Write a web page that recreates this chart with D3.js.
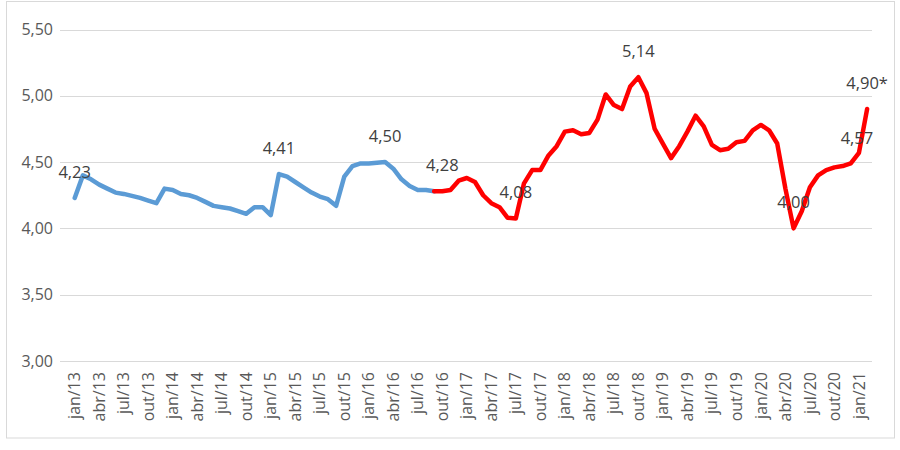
<!DOCTYPE html>
<html>
<head>
<meta charset="utf-8">
<script src="https://cdn.jsdelivr.net/npm/d3@7"></script>
<style>
  html, body { margin: 0; padding: 0; background: #ffffff; }
  svg { display: block; font-family: "Open Sans", "Noto Sans", sans-serif; }
</style>
</head>
<body>
<svg id="chart" width="900" height="450"></svg>
<script>
// ---- data ----
// monthly values, jan/13 .. fev/21
const values = [
  4.23, 4.40, 4.37, 4.33, 4.30, 4.27, 4.26, 4.245, 4.23, 4.21, 4.19, 4.30,
  4.29, 4.26, 4.25, 4.23, 4.20, 4.17, 4.16, 4.15, 4.13, 4.11, 4.16, 4.16,
  4.10, 4.41, 4.39, 4.35, 4.31, 4.27, 4.24, 4.22, 4.17, 4.39, 4.47, 4.49,
  4.49, 4.495, 4.50, 4.45, 4.37, 4.32, 4.29, 4.29, 4.28, 4.28, 4.29, 4.36,
  4.38, 4.35, 4.25, 4.19, 4.16, 4.08, 4.075, 4.34, 4.44, 4.44, 4.55, 4.62,
  4.73, 4.74, 4.71, 4.72, 4.82, 5.01, 4.93, 4.90, 5.07, 5.14, 5.02, 4.75,
  4.64, 4.53, 4.62, 4.73, 4.85, 4.77, 4.63, 4.59, 4.60, 4.65, 4.66, 4.74,
  4.78, 4.74, 4.64, 4.30, 4.00, 4.13, 4.31, 4.40, 4.44, 4.46, 4.47, 4.49,
  4.57, 4.90
];
const redStart = 44; // index where the red series begins (sep/16)
const tickLabels = [
  "jan/13","abr/13","jul/13","out/13","jan/14","abr/14","jul/14","out/14",
  "jan/15","abr/15","jul/15","out/15","jan/16","abr/16","jul/16","out/16",
  "jan/17","abr/17","jul/17","out/17","jan/18","abr/18","jul/18","out/18",
  "jan/19","abr/19","jul/19","out/19","jan/20","abr/20","jul/20","out/20",
  "jan/21"
];
const yTicks = [3.0, 3.5, 4.0, 4.5, 5.0, 5.5];
const labelIndex = [0, 25, 38, 45, 54, 69, 88, 96, 97];
const labelText  = ["4,23", "4,41", "4,50", "4,28", "4,08", "5,14", "4,00", "4,57", "4,90*"];

// ---- drawing ----
const svg = d3.select("#chart");
const fmt = v => v.toFixed(2).replace(".", ",");

svg.append("rect")
  .attr("x", 6.5).attr("y", 1.5).attr("width", 888).attr("height", 436.5)
  .attr("fill", "#fff").attr("stroke", "#d9d9d9").attr("stroke-width", 1);

const x = d3.scaleLinear().domain([-1.8, 97.6]).range([60, 872]);
const y = d3.scaleLinear().domain([3, 5.5]).range([361, 29.5]);

// gridlines
svg.append("g").selectAll("line").data(yTicks).join("line")
  .attr("x1", 60).attr("x2", 872)
  .attr("y1", d => Math.round(y(d)) + 0.5).attr("y2", d => Math.round(y(d)) + 0.5)
  .attr("stroke", "#d9d9d9").attr("stroke-width", 1);

// y labels
svg.append("g").selectAll("text").data(yTicks).join("text")
  .attr("x", 53).attr("y", d => y(d)).attr("dy", "0.35em")
  .attr("text-anchor", "end").attr("font-size", 16).attr("fill", "#595959")
  .text(fmt);

// x labels
svg.append("g").selectAll("text").data(tickLabels).join("text")
  .attr("transform", (d, k) => `translate(${x(k * 3)},372) rotate(-90)`)
  .attr("dy", "0.35em").attr("text-anchor", "end")
  .attr("font-size", 16).attr("fill", "#595959")
  .text(d => d);

const pts = values.map((v, i) => ({ i, v }));
const line = d3.line().x(d => x(d.i)).y(d => y(d.v));

svg.append("path").datum(pts.slice(0, redStart + 1))
  .attr("d", line).attr("fill", "none").attr("stroke", "#5B9BD5")
  .attr("stroke-width", 4.5).attr("stroke-linejoin", "round").attr("stroke-linecap", "round");

svg.append("path").datum(pts.slice(redStart))
  .attr("d", line).attr("fill", "none").attr("stroke", "#FF0000")
  .attr("stroke-width", 4.5).attr("stroke-linejoin", "round").attr("stroke-linecap", "round");

// data labels
svg.append("g").selectAll("text").data(labelIndex).join("text")
  .attr("x", (d, k) => x(d) + (labelText[k] === "4,57" ? -2 : 0))
  .attr("y", (d, k) => y(values[d]) - (labelText[k] === "4,57" ? 9 : 20))
  .attr("text-anchor", "middle").attr("font-size", 16.5).attr("fill", "#404040")
  .text((d, k) => labelText[k]);
</script>
</body>
</html>
